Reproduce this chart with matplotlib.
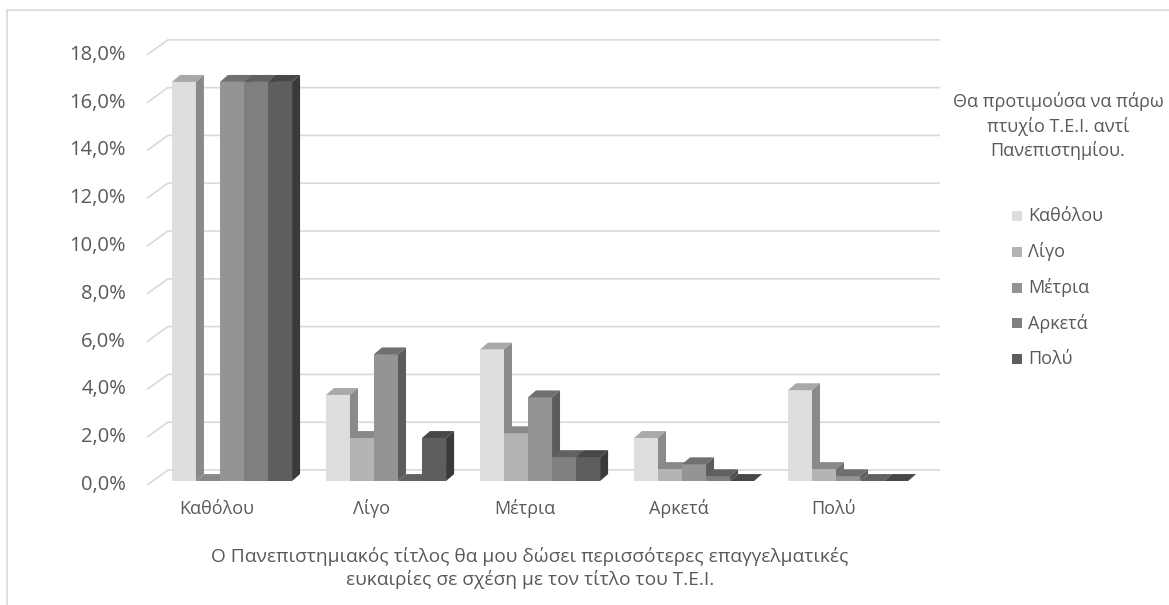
import numpy as np
import matplotlib.pyplot as plt
from matplotlib.patches import Polygon, Rectangle

plt.rcParams['font.family'] = ['Open Sans', 'DejaVu Sans']

categories = ['Καθόλου', 'Λίγο', 'Μέτρια', 'Αρκετά', 'Πολύ']
series = ['Καθόλου', 'Λίγο', 'Μέτρια', 'Αρκετά', 'Πολύ']
# values in %, one list per series, across the categories
kathólou = [16.7, 3.6, 5.5, 1.8, 3.8]
lígo = [0.0, 1.8, 2.0, 0.5, 0.5]
métria = [16.7, 5.3, 3.5, 0.7, 0.2]
arketá = [16.7, 0.0, 1.0, 0.2, 0.0]
polý = [16.7, 1.8, 1.0, 0.0, 0.0]
values = [kathólou, lígo, métria, arketá, polý]
yticks = np.arange(0, 18.1, 2)
legend_title = 'Θα προτιμούσα να πάρω\nπτυχίο Τ.Ε.Ι. αντί\nΠανεπιστημίου.'
x_title = ('Ο Πανεπιστημιακός τίτλος θα μου δώσει περισσότερες επαγγελματικές\n'
           'ευκαιρίες σε σχέση με τον τίτλο του Τ.Ε.Ι.')

fronts = ['#dedede', '#b4b4b4', '#949494', '#7f7f7f', '#5e5e5e']
txt = '#595959'
grid = '#d9d9d9'


def shade(c, f):
    r, g, b = [int(c[i:i + 2], 16) for i in (1, 3, 5)]
    return (r * f / 255, g * f / 255, b * f / 255)


# pseudo-3d geometry (category units / percent units)
w = 0.156          # bar width
bdx, bdy = 0.052, 0.29   # bar depth
front_dx, front_dy = -0.552, -0.17   # wall front corner
back_dx, back_dy = -0.416, 0.46      # wall back corner
x_end = 4.597

fig = plt.figure(figsize=(11.69, 6.05), dpi=100)
ax = fig.add_axes([100 / 1169, 105 / 605, 850 / 1169, 480 / 605])
ax.set_xlim(-0.857, 4.662)
ax.set_ylim(-0.795, 19.29)
ax.axis('off')

# chart area border
fig.add_artist(Rectangle((7 / 1169, -0.1), 1.2, 1 - 10 / 605 + 0.1,
                         transform=fig.transFigure, fill=False,
                         edgecolor='#d9d9d9', lw=1.2))

for v in yticks:
    ax.plot([front_dx, back_dx, x_end], [v + front_dy, v + back_dy, v + back_dy],
            color=grid, lw=1.2, zorder=1, solid_capstyle='butt')
    ax.text(-0.688, v + front_dy, '{:.1f}%'.format(v).replace('.', ','),
            ha='right', va='center', fontsize=14.5, color=txt)

for k, cat in enumerate(categories):
    for j, col in enumerate(fronts):
        h = values[j][k]
        x0 = k - 2.5 * w + j * w
        x1 = x0 + w
        z = 2 + k * 10 + j
        ax.add_patch(Polygon([(x0, 0), (x1, 0), (x1, h), (x0, h)], closed=True,
                             facecolor=col, edgecolor='none', zorder=z))
        ax.add_patch(Polygon([(x0, h), (x1, h), (x1 + bdx, h + bdy), (x0 + bdx, h + bdy)],
                             closed=True, facecolor=shade(col, 0.76), edgecolor='none', zorder=z))
        ax.add_patch(Polygon([(x1, 0), (x1 + bdx, bdy), (x1 + bdx, h + bdy), (x1, h)],
                             closed=True, facecolor=shade(col, 0.62), edgecolor='none', zorder=z))
    ax.text(k - 0.097, -1.17, cat, ha='center', va='center', fontsize=13, color=txt)

fig.text(530 / 1169, 1 - 568 / 605, x_title, ha='center', va='center',
         fontsize=13.8, color=txt, linespacing=1.3)

# legend
fig.text(1058 / 1169, 1 - 126 / 605, legend_title, ha='center', va='center',
         fontsize=13, color=txt, linespacing=1.35)
for j, name in enumerate(series):
    yc = 216 + j * 35.8
    fig.add_artist(Rectangle((1012 / 1169, 1 - (yc + 5) / 605), 10 / 1169, 10 / 605,
                             transform=fig.transFigure, facecolor=fronts[j], edgecolor='none'))
    fig.text(1028 / 1169, 1 - yc / 605, name, ha='left', va='center',
             fontsize=13, color=txt)

fig.savefig('out.png', dpi=100)
